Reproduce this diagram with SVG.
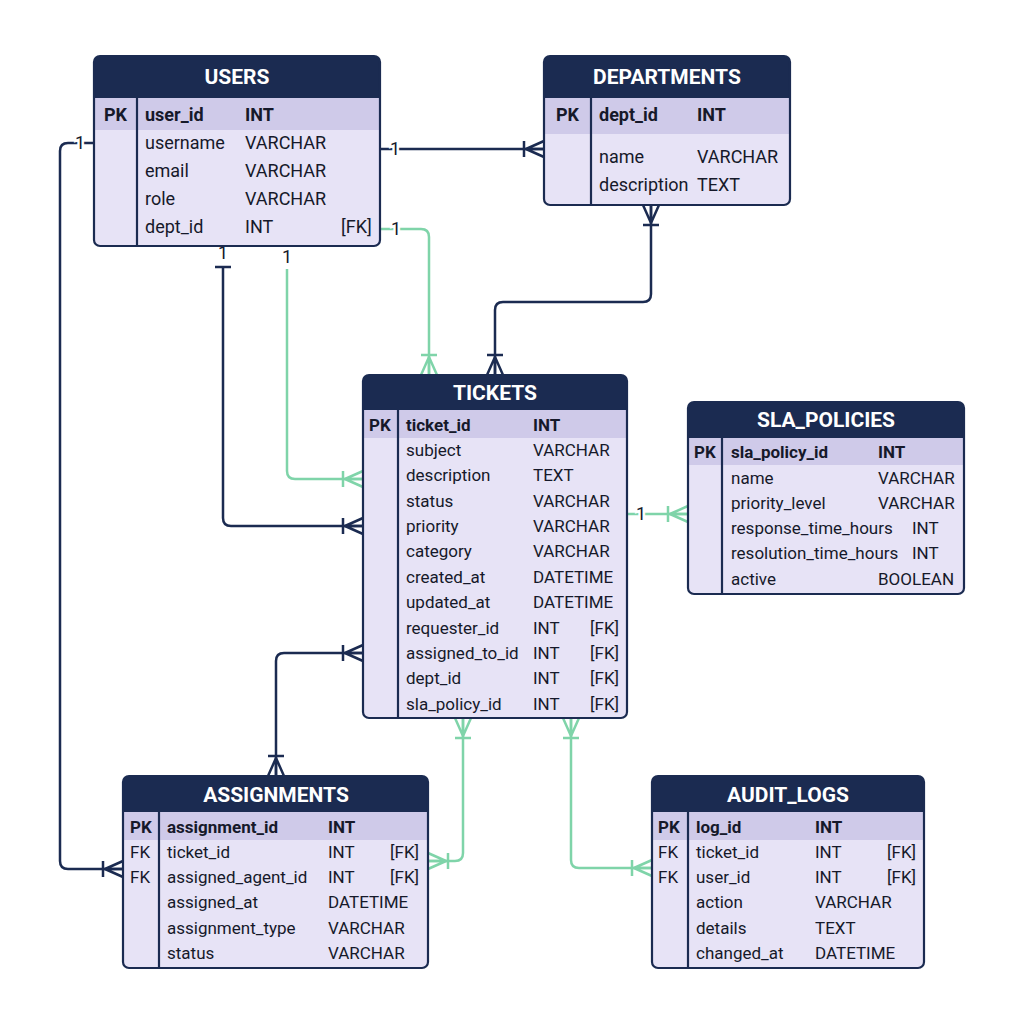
<svg xmlns="http://www.w3.org/2000/svg" width="1024" height="1024" viewBox="0 0 1024 1024">
<defs>
<style>
.body{fill:#e7e3f6}
.hdr{fill:#1b2b51}
.pkrow{fill:#cfcae9}
.frame{fill:none;stroke:#1b2b51;stroke-width:2.2}
.dv{stroke:#1b2b51;stroke-width:2.2}
.ht{font-family:Roboto,"Liberation Sans",sans-serif;font-weight:700;font-size:21px;fill:#ffffff;text-anchor:middle}
.t{font-family:Roboto,"Liberation Sans",sans-serif;font-size:18px;fill:#16192a}
.s{font-size:17px}
.b{font-weight:700}
.cn{fill:none;stroke:#1b2b51;stroke-width:2.5}
.cg{fill:none;stroke:#7fd4a9;stroke-width:2.5}
.lbl{font-family:Roboto,"Liberation Sans",sans-serif;font-size:18px;fill:#16192a;text-anchor:middle;stroke:#ffffff;stroke-width:5;paint-order:stroke}
</style>
<marker id="crowN" viewBox="-26 -11 28 22" refX="0" refY="0" markerWidth="28" markerHeight="22" markerUnits="userSpaceOnUse" orient="auto-start-reverse">
<path d="M-18 0 L0 -8 M-18 0 L0 0 M-18 0 L0 8 M-20 -8 L-20 8" fill="none" stroke="#1b2b51" stroke-width="2.5"/>
</marker>
<marker id="crowG" viewBox="-26 -11 28 22" refX="0" refY="0" markerWidth="28" markerHeight="22" markerUnits="userSpaceOnUse" orient="auto-start-reverse">
<path d="M-18 0 L0 -8 M-18 0 L0 0 M-18 0 L0 8 M-20 -8 L-20 8" fill="none" stroke="#7fd4a9" stroke-width="2.5"/>
</marker>
</defs>
<rect width="1024" height="1024" fill="#ffffff"/>

<g id="connectors">
<path class="cn" d="M94 143 H68 Q60 143 60 151 V861 Q60 869 68 869 H123" marker-end="url(#crowN)"/>
<path class="cn" d="M380 149 H544" marker-end="url(#crowN)"/>
<path class="cg" d="M380 229 H421 Q429 229 429 237 V375" marker-end="url(#crowG)"/>
<path class="cn" d="M651 205 V294 Q651 302 643 302 H503 Q495 302 495 310 V375" marker-start="url(#crowN)" marker-end="url(#crowN)"/>
<path class="cn" d="M223 267 V518 Q223 526 231 526 H363" marker-end="url(#crowN)"/>
<text class="lbl" x="223" y="259">1</text>
<path class="cn" d="M215 267 H231"/>
<path class="cg" d="M287 269 V471 Q287 479 295 479 H363" marker-end="url(#crowG)"/>
<path class="cg" d="M627 514 H688" marker-end="url(#crowG)"/>
<path class="cn" d="M363 653 H284 Q276 653 276 661 V776" marker-start="url(#crowN)" marker-end="url(#crowN)"/>
<path class="cg" d="M463 718 V853 Q463 861 455 861 H428" marker-start="url(#crowG)" marker-end="url(#crowG)"/>
<path class="cg" d="M571 718 V860 Q571 868 579 868 H652" marker-start="url(#crowG)" marker-end="url(#crowG)"/>
<text class="lbl" x="80" y="149">1</text>
<text class="lbl" x="395" y="155">1</text>
<text class="lbl" x="396" y="235">1</text>
<text class="lbl" x="287" y="263">1</text>
<text class="lbl" x="641" y="520">1</text>
</g>

<g id="users">
<rect class="body" x="94" y="56" width="286" height="190" rx="6"/>
<path class="hdr" d="M94 98 V62 Q94 56 100 56 H374 Q380 56 380 62 V98 Z"/>
<rect class="pkrow" x="95" y="98" width="284" height="32"/>
<line class="dv" x1="137" y1="98" x2="137" y2="246"/>
<rect class="frame" x="94" y="56" width="286" height="190" rx="6"/>
<text class="ht" x="237" y="84">USERS</text>
<text class="t b" x="104" y="121">PK</text>
<text class="t b" x="145" y="121">user_id</text>
<text class="t b" x="245" y="121">INT</text>
<text class="t" x="145" y="149">username</text><text class="t" x="245" y="149">VARCHAR</text>
<text class="t" x="145" y="177">email</text><text class="t" x="245" y="177">VARCHAR</text>
<text class="t" x="145" y="205">role</text><text class="t" x="245" y="205">VARCHAR</text>
<text class="t" x="145" y="233">dept_id</text><text class="t" x="245" y="233">INT</text><text class="t" x="341" y="233">[FK]</text>
</g>

<g id="departments">
<rect class="body" x="544" y="56" width="246" height="149" rx="6"/>
<path class="hdr" d="M544 98 V62 Q544 56 550 56 H784 Q790 56 790 62 V98 Z"/>
<rect class="pkrow" x="545" y="98" width="244" height="36"/>
<line class="dv" x1="591" y1="98" x2="591" y2="205"/>
<rect class="frame" x="544" y="56" width="246" height="149" rx="6"/>
<text class="ht" x="667" y="84">DEPARTMENTS</text>
<text class="t b" x="556" y="121">PK</text>
<text class="t b" x="599" y="121">dept_id</text>
<text class="t b" x="697" y="121">INT</text>
<text class="t" x="599" y="163">name</text><text class="t" x="697" y="163">VARCHAR</text>
<text class="t" x="599" y="191">description</text><text class="t" x="697" y="191">TEXT</text>
</g>

<g id="tickets">
<rect class="body" x="363" y="375" width="264" height="343" rx="6"/>
<path class="hdr" d="M363 410 V381 Q363 375 369 375 H621 Q627 375 627 381 V410 Z"/>
<rect class="pkrow" x="364" y="410" width="262" height="28"/>
<line class="dv" x1="398" y1="410" x2="398" y2="718"/>
<rect class="frame" x="363" y="375" width="264" height="343" rx="6"/>
<text class="ht" x="495" y="400">TICKETS</text>
<text class="t s b" x="369" y="431">PK</text>
<text class="t s b" x="406" y="431">ticket_id</text><text class="t s b" x="533" y="431">INT</text>
<text class="t s" x="406" y="456">subject</text><text class="t s" x="533" y="456">VARCHAR</text>
<text class="t s" x="406" y="481">description</text><text class="t s" x="533" y="481">TEXT</text>
<text class="t s" x="406" y="507">status</text><text class="t s" x="533" y="507">VARCHAR</text>
<text class="t s" x="406" y="532">priority</text><text class="t s" x="533" y="532">VARCHAR</text>
<text class="t s" x="406" y="557">category</text><text class="t s" x="533" y="557">VARCHAR</text>
<text class="t s" x="406" y="583">created_at</text><text class="t s" x="533" y="583">DATETIME</text>
<text class="t s" x="406" y="608">updated_at</text><text class="t s" x="533" y="608">DATETIME</text>
<text class="t s" x="406" y="634">requester_id</text><text class="t s" x="533" y="634">INT</text><text class="t s" x="590" y="634">[FK]</text>
<text class="t s" x="406" y="659">assigned_to_id</text><text class="t s" x="533" y="659">INT</text><text class="t s" x="590" y="659">[FK]</text>
<text class="t s" x="406" y="684">dept_id</text><text class="t s" x="533" y="684">INT</text><text class="t s" x="590" y="684">[FK]</text>
<text class="t s" x="406" y="710">sla_policy_id</text><text class="t s" x="533" y="710">INT</text><text class="t s" x="590" y="710">[FK]</text>
</g>

<g id="sla_policies">
<rect class="body" x="688" y="402" width="276" height="192" rx="6"/>
<path class="hdr" d="M688 438 V408 Q688 402 694 402 H958 Q964 402 964 408 V438 Z"/>
<rect class="pkrow" x="689" y="438" width="274" height="27"/>
<line class="dv" x1="722" y1="438" x2="722" y2="594"/>
<rect class="frame" x="688" y="402" width="276" height="192" rx="6"/>
<text class="ht" x="826" y="427">SLA_POLICIES</text>
<text class="t s b" x="694" y="458">PK</text>
<text class="t s b" x="731" y="458">sla_policy_id</text><text class="t s b" x="878" y="458">INT</text>
<text class="t s" x="731" y="484">name</text><text class="t s" x="878" y="484">VARCHAR</text>
<text class="t s" x="731" y="509">priority_level</text><text class="t s" x="878" y="509">VARCHAR</text>
<text class="t s" x="731" y="534">response_time_hours</text><text class="t s" x="912" y="534">INT</text>
<text class="t s" x="731" y="559">resolution_time_hours</text><text class="t s" x="912" y="559">INT</text>
<text class="t s" x="731" y="585">active</text><text class="t s" x="878" y="585">BOOLEAN</text>
</g>

<g id="assignments">
<rect class="body" x="123" y="776" width="305" height="192" rx="6"/>
<path class="hdr" d="M123 812 V782 Q123 776 129 776 H422 Q428 776 428 782 V812 Z"/>
<rect class="pkrow" x="124" y="812" width="303" height="28"/>
<line class="dv" x1="159" y1="812" x2="159" y2="968"/>
<rect class="frame" x="123" y="776" width="305" height="192" rx="6"/>
<text class="ht" x="276" y="802">ASSIGNMENTS</text>
<text class="t s b" x="130" y="833">PK</text>
<text class="t s b" x="167" y="833">assignment_id</text><text class="t s b" x="328" y="833">INT</text>
<text class="t s" x="130" y="858">FK</text>
<text class="t s" x="167" y="858">ticket_id</text><text class="t s" x="328" y="858">INT</text><text class="t s" x="390" y="858">[FK]</text>
<text class="t s" x="130" y="883">FK</text>
<text class="t s" x="167" y="883">assigned_agent_id</text><text class="t s" x="328" y="883">INT</text><text class="t s" x="390" y="883">[FK]</text>
<text class="t s" x="167" y="908">assigned_at</text><text class="t s" x="328" y="908">DATETIME</text>
<text class="t s" x="167" y="934">assignment_type</text><text class="t s" x="328" y="934">VARCHAR</text>
<text class="t s" x="167" y="959">status</text><text class="t s" x="328" y="959">VARCHAR</text>
</g>

<g id="audit_logs">
<rect class="body" x="652" y="776" width="272" height="192" rx="6"/>
<path class="hdr" d="M652 812 V782 Q652 776 658 776 H918 Q924 776 924 782 V812 Z"/>
<rect class="pkrow" x="653" y="812" width="270" height="28"/>
<line class="dv" x1="688" y1="812" x2="688" y2="968"/>
<rect class="frame" x="652" y="776" width="272" height="192" rx="6"/>
<text class="ht" x="788" y="802">AUDIT_LOGS</text>
<text class="t s b" x="658" y="833">PK</text>
<text class="t s b" x="696" y="833">log_id</text><text class="t s b" x="815" y="833">INT</text>
<text class="t s" x="658" y="858">FK</text>
<text class="t s" x="696" y="858">ticket_id</text><text class="t s" x="815" y="858">INT</text><text class="t s" x="887" y="858">[FK]</text>
<text class="t s" x="658" y="883">FK</text>
<text class="t s" x="696" y="883">user_id</text><text class="t s" x="815" y="883">INT</text><text class="t s" x="887" y="883">[FK]</text>
<text class="t s" x="696" y="908">action</text><text class="t s" x="815" y="908">VARCHAR</text>
<text class="t s" x="696" y="934">details</text><text class="t s" x="815" y="934">TEXT</text>
<text class="t s" x="696" y="959">changed_at</text><text class="t s" x="815" y="959">DATETIME</text>
</g>
</svg>
